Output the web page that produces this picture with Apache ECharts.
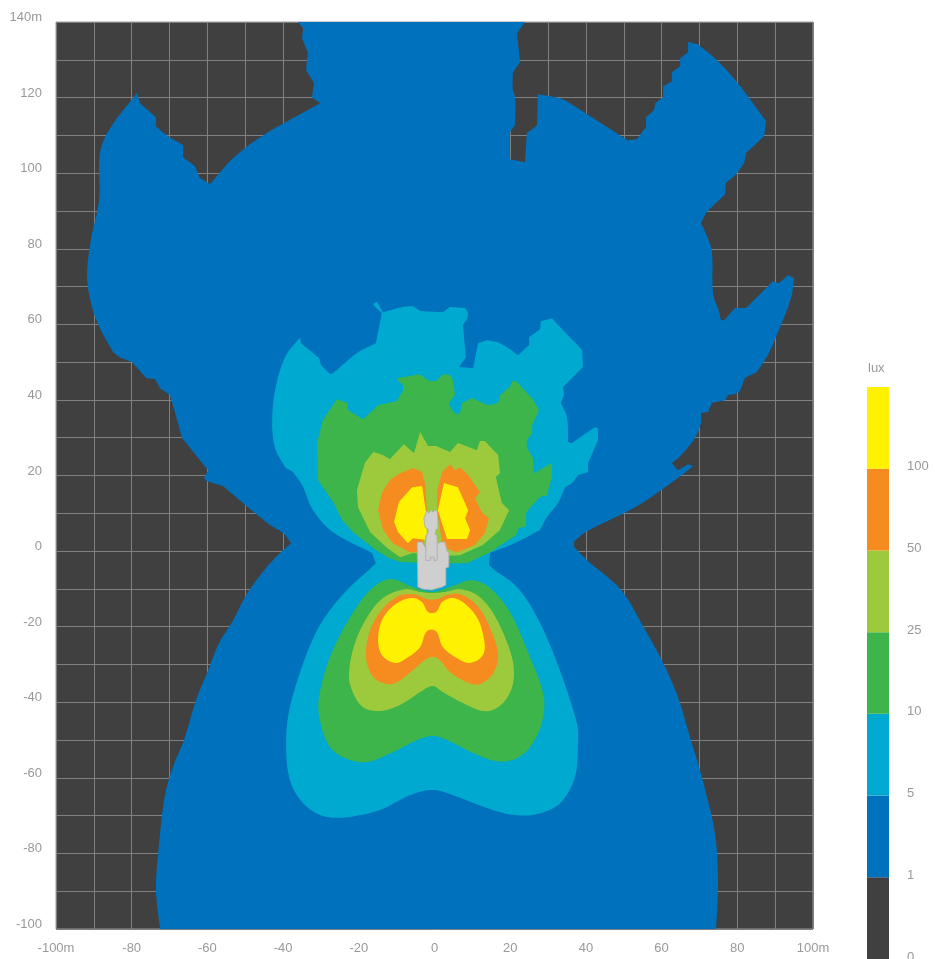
<!DOCTYPE html>
<html><head><meta charset="utf-8">
<style>html,body{margin:0;padding:0;background:#fff}#c{width:935px;height:959px}</style>
<script src="https://cdn.jsdelivr.net/npm/echarts@6/dist/echarts.min.js"></script>
</head><body><div id="c"></div>
<script>
// Contours in metres [x, y]
const lux1 = [[-36.1,140],[23.9,140],[21.8,137],[22.6,129.4],[20.7,126.5],[20.7,122],[21.3,120.1],[21.3,112.7],[19.9,110.8],[19.9,103.7],[23.9,102.9],[24.4,110.6],[27.1,112.7],[27.3,120.9],[33.2,119.8],[35.8,118.5],[49,110],[51.1,108.7],[53.5,109],[55.9,112.2],[55.9,114.8],[58,116.7],[58.3,118.5],[60.4,120.1],[60.4,123],[62.7,124.3],[62.7,126.7],[64.9,128.3],[64.9,130.4],[67,132],[67,134.7],[69.6,134.1],[74.6,129.9],[79.9,124.1],[87.6,113.8],[87.1,109.8],[82.3,105.3],[81.8,102.6],[79.9,100],[77,97.4],[76.8,94.4],[72,89.7],[70.4,86.8],[72,83.3],[73.3,79.1],[73.6,68.3],[75.2,63.2],[75.7,61.1],[76.5,61.1],[79.4,64.3],[82.3,64.3],[89.4,71.4],[91,70.9],[93.4,73],[95,72.2],[94.2,66.9],[90.2,56.6],[88.1,51.9],[85.2,47.4],[82,45.8],[80.7,42.3],[79.4,41.5],[77.5,41.3],[76.8,39.9],[73.3,39.2],[72.3,36.8],[70.4,36.5],[70.4,33.9],[68.8,29.9],[64.9,25.1],[62.7,23.3],[64.3,21.4],[67,23],[68.3,22.5],[65.7,20.4],[59.8,16.1],[53,11.6],[39.8,5],[37.9,3.4],[36.9,2.6],[36.9,1.1],[40.3,-2.4],[49.3,-10.3],[55.4,-20.4],[60.4,-29.6],[64.3,-38.6],[67.5,-49.2],[69.9,-57.1],[72,-65.1],[73.6,-72],[74.6,-79.1],[74.9,-89.7],[74.4,-100],[-72.5,-100],[-73.6,-89.7],[-73,-79.9],[-71.3,-65.1],[-69.1,-57.1],[-66.2,-50],[-63,-39.4],[-60.1,-32.3],[-56.9,-24.3],[-53.5,-18.8],[-48.9,-10.3],[-42.7,-2.4],[-37.9,2.1],[-40,4.8],[-43.5,6.9],[-55.9,17.2],[-60.1,18.5],[-60.9,19.3],[-59.8,21.4],[-66.7,29.9],[-68,34.7],[-69.9,41.3],[-72.5,43.1],[-73.8,45.5],[-76.2,45.8],[-79.9,50],[-83.1,51.3],[-84.9,52.6],[-88.4,59],[-90.5,64.6],[-91.8,72.5],[-90.8,82.3],[-88.6,92.9],[-88.4,105.3],[-85.7,111.9],[-78.6,121.2],[-77.8,118.5],[-73.6,114.8],[-73.6,112.4],[-70.7,110],[-66.4,107.4],[-66.4,104.2],[-63.3,101.9],[-62,98.7],[-59.3,97.1],[-53.2,104],[-45.3,110],[-35.5,115.6],[-30.2,118.5],[-32.4,120.1],[-31.8,123.8],[-33.9,127.2],[-33.7,129.9],[-33.4,131.7],[-35,135.7],[-34.7,138.4]];
const lux5Upper = [[-16,65.6],[-15.2,65.9],[-13.6,63.2],[-8.3,64.6],[-5.7,64.8],[-3.6,63.5],[2.2,63.2],[4.1,64.6],[8.1,64.3],[8.9,63],[8.6,61.4],[7.5,59.8],[8.3,51.3],[6.5,48.7],[10.2,48.4],[11.5,55],[13.9,55.8],[17.3,55],[22.1,51.9],[25,54.5],[25,56.6],[27.9,58.7],[28.1,60.8],[31,61.6],[39,53.2],[39.2,48.7],[34,43.4],[34.2,41.3],[33.4,39.2],[35,35.4],[35.3,28.8],[36.3,28.6],[42.4,32.8],[43.2,32.5],[43.2,29.4],[40.6,23.3],[40.6,20.9],[37.9,20.1],[36.3,18],[34.5,16.9],[32.6,12.7],[29.7,9],[27.9,5.6],[21.8,2.4],[14.7,-0.5],[14.4,-3.7],[-15.5,-3.2],[-16.5,-0.5],[-26.8,5],[-32.1,10.8],[-35,17.5],[-37.4,20.9],[-39.5,22.2],[-42.1,27.2],[-42.9,33.9],[-42.1,42.6],[-39.5,51.3],[-35.5,56.6],[-35.3,55],[-30.5,51.1],[-30,49.2],[-27.6,46.8],[-26.8,47.1],[-20.5,52.4],[-15.5,55],[-13.9,63],[-16.2,65.1]];
const lux5Lower = [[10,3],[14.4,-3.7],[21.8,-9.5],[27.1,-17.5],[32.4,-29.6],[37.6,-45.5],[37.9,-50.8],[37.1,-59.8],[33.2,-66.7],[27.1,-69.6],[20.7,-69.8],[13.9,-68],[4.9,-64.6],[-0.4,-63.2],[-6.5,-64.6],[-14.4,-68.5],[-23.1,-70.4],[-29.5,-70.1],[-34.7,-66.7],[-38.2,-60.6],[-39.2,-50.8],[-38.2,-41.3],[-33.7,-27],[-29.5,-18.3],[-23.1,-10.3],[-15.5,-3.2],[-10,3]];
const lux10Upper = [[-9.6,45.8],[-3.8,46.8],[-1.5,45],[0.4,45],[2.2,46.8],[4.1,46.6],[4.9,45.2],[5.4,41.3],[3.8,39.2],[4.6,37.3],[5.9,36.2],[6.7,36.5],[7.3,39.2],[9.9,40.5],[14.1,38.6],[16.8,39.2],[17.3,41.3],[19.9,43.4],[20.5,45],[21.5,45],[26,40.2],[27.6,37.3],[25.8,33.3],[25.8,31.2],[24.4,29.4],[24.4,27.5],[26,24.6],[26.3,20.6],[31,23.3],[31,19.6],[29.7,14.8],[27.9,14.3],[25.2,11.4],[24.2,10.1],[24.2,6.6],[22.3,6.1],[21.5,4.2],[14.7,-0.3],[8.6,-3.2],[-0.4,-3.2],[-9.1,-2.9],[-12.5,-1.6],[-16.2,0.8],[-21.5,5],[-24.4,8.2],[-26.8,13],[-30.8,18.8],[-31,28.6],[-29.5,34.7],[-25.8,40.2],[-22.9,39.2],[-22.9,37.3],[-18.9,34.9],[-14.9,38.6],[-9.9,39.7],[-8.3,42.6],[-8.3,43.9],[-9.9,45.5]];
const lux10Lower = [[-11.8,-7.4],[-5.7,-9.5],[-0.7,-10.8],[4.1,-9.5],[9.9,-7.7],[14.7,-9.8],[19.9,-16.1],[25.2,-28],[28.7,-37.6],[28.7,-43.9],[26,-50.8],[21.8,-54.8],[16.5,-55.6],[10.2,-53.4],[3.3,-50],[-0.4,-48.9],[-4.6,-50],[-11,-53.2],[-17.8,-55.8],[-23.1,-55],[-27.6,-51.9],[-30.3,-44.7],[-30.5,-38.6],[-27.6,-28],[-22.3,-17.5],[-17,-10.3]];
const lux25Upper = [[-16.2,26.2],[-13.6,25.4],[-11.8,24.3],[-8.1,28.3],[-5.4,25.9],[-3.8,31.5],[-1.7,27.8],[0.4,27.8],[4.1,26.2],[6.2,28.6],[11.2,26.7],[12,29.1],[13.3,29.1],[16.8,25.4],[17.3,20.6],[16.2,19.6],[17.8,12.7],[19.7,10.8],[17.3,5.6],[12.8,1.6],[6.7,-1.1],[-0.4,-1.3],[-5.7,-0.5],[-9.1,-1.6],[-12.5,0.8],[-17,5],[-20.2,11.6],[-20.5,16.1],[-18.4,23.3]];
const lux25Lower = [[-7.8,-10.1],[-3.8,-10.8],[-0.7,-11.1],[2.8,-10.8],[6.7,-10.1],[11.2,-11.6],[15.5,-16.4],[19.9,-26.2],[21,-32.3],[19.9,-37.6],[16.5,-41.5],[12.8,-42.3],[7.5,-40.2],[2.2,-37.3],[-0.4,-35.7],[-3,-36.8],[-9.1,-40.7],[-14.4,-42.3],[-18.9,-41.3],[-21.8,-36.8],[-22.6,-32.3],[-21,-24.3],[-17.8,-17.5],[-13.6,-12.4]];
const lux50UpperLeft = [[-5.7,22],[-3.3,20.9],[-2.5,18],[-2,10.8],[-2.5,4.2],[-3.6,-0.3],[-6.5,-0.3],[-11,2.1],[-13.6,5.6],[-14.9,10.8],[-13.9,15.3],[-11.8,18.8],[-9.1,20.6]];
const lux50UpperRight = [[4.1,23],[5.4,21.4],[6.7,22.2],[8.9,20.1],[12,15.6],[10.7,14],[12.5,10.3],[14.4,8.7],[13.3,4.8],[10.7,1.6],[5.9,-0.3],[2.2,1.1],[0.7,10.8],[0.7,16.1],[2,20.9]];
const lux50Lower = [[-7.8,-11.4],[-4.6,-11.6],[-2,-12.7],[0.7,-12.7],[3.3,-11.6],[6.7,-11.4],[11.2,-14.3],[14.7,-20.4],[16.8,-27.5],[15.5,-32.3],[12,-35.2],[8.6,-34.7],[4.1,-32],[0.7,-28.3],[-1.7,-28.3],[-5.7,-31.5],[-9.9,-34.7],[-12.5,-35.2],[-16.2,-33.3],[-18.1,-28],[-17,-20.9],[-13.6,-15.1],[-10.4,-12.4]];
const lux100UpperLeft = [[-5.9,16.9],[-3.3,17.2],[-2.2,10.1],[-2,2.9],[-5.7,3.4],[-7,2.1],[-9.6,5],[-10.7,7.7],[-9.4,13]];
const lux100UpperRight = [[2.5,18],[6.2,16.9],[8.9,10.8],[8.1,8.7],[9.4,5.6],[8.6,3.2],[3.3,3.2],[0.9,10.8]];
const lux100Lower = [[-5.9,-12.4],[-3.3,-13.5],[-1.7,-16.1],[0.4,-16.1],[2,-13.5],[4.6,-12.4],[7.5,-13.5],[11.2,-17.5],[13.1,-23.5],[12.8,-27.5],[9.4,-29.6],[5.9,-28.3],[2.2,-25.4],[0.4,-21.2],[-2,-21.2],[-3.8,-25.4],[-7.3,-28.3],[-10.4,-29.6],[-13.9,-27.5],[-14.9,-23],[-13.6,-17.7],[-9.9,-13.8]];
const building = [[-2,10.8],[-1.5,10],[-0.9,10.8],[-0.4,10.3],[0.1,10.8],[0.7,10.6],[0.9,8.2],[0.9,6.1],[0.4,5.6],[0.1,4.5],[0.7,4.2],[0.9,2.1],[1.7,2.4],[2.8,2.4],[3.3,0],[3.8,-0.3],[3.8,-4.2],[3,-4.5],[3,-9],[2,-9.5],[-0.7,-10.3],[-3,-10.1],[-4.4,-9.5],[-4.6,2.4],[-3.3,2.4],[-2.5,1.1],[-2.2,4.2],[-1.7,4.8],[-1.7,5.8],[-2.5,6.3],[-2.8,8.7]];
const buildingDetail = [[-2.3,4.2],[-2.3,-2.4],[-1.2,-2.6],[-1,-1.6],[-0.1,-1.6],[-0.1,-2.6],[0.7,-2.4],[0.7,4.2]];

// Legend
const luxLabels = ['0','1','5','10','25','50','100'];
const luxColors = ['#404040','#0071BC','#00A9D0','#3DB54A','#9DCA3C','#F68B1F','#FFF200'];
const labelStyle = {color:'#999',fontFamily:'"Liberation Sans",Arial,sans-serif',fontSize:13};

// Draw an outline: corners stay sharp, gentle bends become curves.
function curveOutline(pts, cornerDeg){
  if(!cornerDeg) return pts;
  const n = pts.length, out = [];
  const unit = (a,b)=>{const dx=b[0]-a[0],dy=b[1]-a[1],l=Math.hypot(dx,dy)||1;return [dx/l,dy/l];};
  const corner = pts.map((p,i)=>{
    const u=unit(pts[(i+n-1)%n],p), v=unit(p,pts[(i+1)%n]);
    return Math.acos(Math.max(-1,Math.min(1,u[0]*v[0]+u[1]*v[1])))*180/Math.PI > cornerDeg;
  });
  for(let i=0;i<n;i++){
    const a=pts[i], b=pts[(i+1)%n], len=Math.hypot(b[0]-a[0],b[1]-a[1]);
    const seg=unit(a,b);
    const ta=corner[i]?seg:unit(pts[(i+n-1)%n],b);
    const tb=corner[(i+1)%n]?seg:unit(a,pts[(i+2)%n]);
    const c1=[a[0]+ta[0]*len/3,a[1]+ta[1]*len/3], c2=[b[0]-tb[0]*len/3,b[1]-tb[1]*len/3];
    for(let k=0;k<8;k++){
      const t=k/8,s=1-t;
      out.push([s*s*s*a[0]+3*s*s*t*c1[0]+3*s*t*t*c2[0]+t*t*t*b[0],
                s*s*s*a[1]+3*s*s*t*c1[1]+3*s*t*t*c2[1]+t*t*t*b[1]]);
    }
  }
  return out;
}
function poly(name, points, color, cornerDeg, extra){
  return {
    name, type:'custom', coordinateSystem:'cartesian2d', clip:true, silent:true,
    data:points, encode:{x:0,y:1},
    renderItem(params, api){
      if(params.dataIndex!==0) return null;
      const pts = curveOutline(points.map(p=>api.coord(p)), cornerDeg);
      return {type:'polygon', shape:{points:pts},
              style:Object.assign({fill:color}, extra||{})};
    }
  };
}
const C = luxColors;
const series = [
  poly('1 lux', lux1, C[1], 22),
  poly('5 lux upper', lux5Upper, C[2], 22),
  poly('5 lux lower', lux5Lower, C[2], 60),
  poly('10 lux upper', lux10Upper, C[3], 0),
  poly('10 lux lower', lux10Lower, C[3], 70),
  poly('25 lux upper', lux25Upper, C[4], 0),
  poly('25 lux lower', lux25Lower, C[4], 70),
  poly('50 lux upper left', lux50UpperLeft, C[5], 0),
  poly('50 lux upper right', lux50UpperRight, C[5], 0),
  poly('50 lux lower', lux50Lower, C[5], 70),
  poly('100 lux upper left', lux100UpperLeft, C[6], 0),
  poly('100 lux upper right', lux100UpperRight, C[6], 0),
  poly('100 lux lower', lux100Lower, C[6], 72),
  poly('building', building, '#CFCFCF', 0, {stroke:'#ABABAB', lineWidth:0.8, lineJoin:'miter'}),
  {
    name:'building detail', type:'line', data:buildingDetail, showSymbol:false, silent:true,
    lineStyle:{color:'#ABABAB',width:0.8}, animation:false
  },
  {
    name:'legend', type:'custom', xAxisIndex:1, yAxisIndex:1, silent:true,
    data:luxLabels.map((l,i)=>[0,i]), encode:{x:0,y:1},
    renderItem(params, api){
      const i = api.value(1);
      const a = api.coord([0,i]), b = api.coord([1,i+1]);
      return {type:'rect', shape:{x:a[0],y:b[1],width:b[0]-a[0],height:a[1]-b[1]}, style:{fill:luxColors[i]}};
    }
  }
];

const chart = echarts.init(document.getElementById('c'), null, {renderer:'canvas'});
chart.setOption({
  animation:false,
  backgroundColor:'#fff',
  title:{text:'lux', left:868, top:362, textStyle:Object.assign({},labelStyle,{fontWeight:'normal'}), padding:0},
  grid:[
    {left:56, top:22, width:757, height:907, show:true, backgroundColor:'#404040', borderColor:'#999', borderWidth:1, outerBoundsMode:'none'},
    {left:867, top:387, width:22, height:572, show:false, outerBoundsMode:'none'}
  ],
  xAxis:[
    {type:'value', min:-100, max:100, interval:10, position:'bottom',
     axisLine:{show:false}, axisTick:{show:false},
     axisLabel:Object.assign({},labelStyle,{margin:13,showMinLabel:true,showMaxLabel:true,
       formatter:v=>v%20?'':(Math.abs(v)===100?v+'m':String(v))}),
     splitLine:{show:true,lineStyle:{color:'#808080',width:1}}},
    {type:'value', gridIndex:1, min:0, max:1, show:false}
  ],
  yAxis:[
    {type:'value', min:-100, max:140, interval:10,
     axisLine:{show:false}, axisTick:{show:false},
     axisLabel:Object.assign({},labelStyle,{margin:14,lineHeight:9,verticalAlign:'bottom',showMinLabel:true,showMaxLabel:true,
       formatter:v=>v%20?'':(v===140?'140m':String(v))}),
     splitLine:{show:true,lineStyle:{color:'#808080',width:1}}},
    {type:'value', gridIndex:1, min:0, max:7, interval:1, position:'right',
     axisLine:{show:false}, axisTick:{show:false}, splitLine:{show:false},
     axisLabel:Object.assign({},labelStyle,{margin:18,lineHeight:4,verticalAlign:'bottom',showMinLabel:true,
       formatter:v=>luxLabels[v]||''})}
  ],
  series
});
</script></body></html>
